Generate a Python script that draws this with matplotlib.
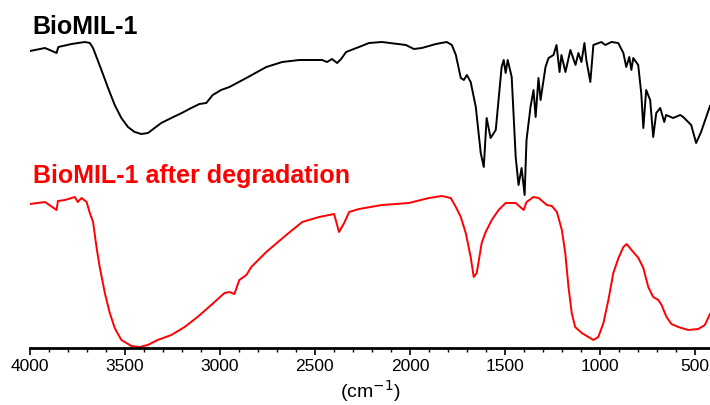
import matplotlib.pyplot as plt
from matplotlib.ticker import MultipleLocator

plt.rcParams['font.family'] = ['Liberation Sans', 'DejaVu Sans']

# BioMIL-1 spectrum (wavenumber, transmittance in arbitrary offset units)
wn_fresh = [4000, 3921, 3860, 3851, 3781, 3746, 3711, 3685, 3668, 3650, 3624, 3589,
            3554, 3519, 3484, 3449, 3414, 3379, 3344, 3309, 3256, 3201, 3151, 3108,
            3072, 3038, 2994, 2950, 2861, 2756, 2672, 2583,
            2462, 2436, 2410, 2383, 2362, 2336, 2268, 2215, 2147, 2021, 1979, 1937,
            1863, 1806, 1779, 1758, 1732, 1716, 1700, 1680, 1653, 1627, 1611, 1596,
            1575, 1548, 1517, 1506, 1496, 1485, 1464, 1443, 1428, 1412, 1396, 1386,
            1365, 1349, 1338, 1323, 1312, 1286, 1270, 1244, 1228, 1212, 1202, 1181,
            1155, 1128, 1113, 1097, 1081, 1071, 1050, 1034, 992, 971, 939, 903,
            876, 861, 845, 834, 824, 798, 782, 771, 756, 735, 719, 703,
            682, 661, 651, 614, 577, 561, 519, 493, 467, 420]
t_fresh = [297, 300, 295, 301, 304, 305, 306, 305, 300, 291, 278, 260,
           243, 230, 221, 216, 214, 215, 220, 225, 230, 235, 240, 244,
           245, 253, 258, 261, 270, 281, 286, 288,
           288, 286, 289, 285, 289, 296, 301, 305, 306, 303, 299, 300,
           304, 306, 303, 293, 270, 268, 273, 266, 241, 195, 181, 230,
           210, 218, 281, 288, 275, 288, 271, 191, 163, 180, 153, 208,
           241, 258, 231, 270, 248, 281, 290, 293, 303, 276, 293, 276,
           298, 283, 295, 286, 305, 288, 266, 303, 306, 303, 306, 305,
           295, 281, 291, 278, 290, 283, 255, 220, 258, 248, 211, 235,
           240, 226, 233, 230, 233, 231, 223, 205, 216, 242]

# BioMIL-1 after degradation
wn_degr = [4000, 3921, 3860, 3853, 3816, 3764, 3748, 3729, 3702, 3685, 3668, 3650,
           3633, 3606, 3580, 3554, 3519, 3466, 3422, 3380, 3328, 3256, 3186, 3118,
           3046, 2976, 2950, 2924, 2898, 2861, 2835, 2756, 2651, 2567, 2478, 2399,
           2373, 2346, 2320, 2268, 2147, 2005, 1900, 1832, 1785, 1758, 1732, 1706,
           1680, 1664, 1648, 1622, 1601, 1569, 1533, 1496, 1443, 1401, 1386, 1349,
           1322, 1279, 1253, 1226, 1200, 1182, 1165, 1148, 1130, 1095, 1060, 1034,
           1008, 981, 955, 929, 902, 876, 859, 833, 797, 771, 745, 719,
           692, 675, 649, 623, 587, 535, 482, 447, 420]
t_degr = [144, 146, 138, 147, 148, 151, 146, 150, 146, 135, 126, 101,
          81, 55, 35, 20, 8, 2, 1, 3, 8, 13, 21, 31,
          43, 55, 56, 54, 68, 73, 81, 96, 113, 126, 131, 134,
          116, 125, 136, 139, 143, 145, 150, 152, 150, 141, 131, 115,
          91, 71, 75, 105, 116, 128, 138, 145, 145, 138, 146, 151,
          150, 143, 142, 136, 118, 95, 61, 35, 21, 15, 11, 8,
          11, 25, 48, 75, 90, 101, 104, 98, 90, 80, 61, 51,
          48, 43, 31, 24, 21, 18, 19, 23, 34]

fig = plt.figure(figsize=(7.1, 4.05), dpi=100)
ax = fig.add_axes([30/710, 57/405, 680/710, 348/405])

ax.plot(wn_fresh, t_fresh, color='black', lw=1.4)
ax.plot(wn_degr, t_degr, color='red', lw=1.4)

ax.set_xlim(4000, 420)
ax.set_ylim(0, 348)

ax.text(3985, 321, 'BioMIL-1', color='black', fontsize=18, fontweight='bold', va='center')
ax.text(3985, 172, 'BioMIL-1 after degradation', color='red', fontsize=18,
        fontweight='bold', va='center')

for s in ['left', 'top', 'right']:
    ax.spines[s].set_visible(False)
ax.spines['bottom'].set_linewidth(2)
ax.set_yticks([])
ax.xaxis.set_major_locator(MultipleLocator(500))
ax.xaxis.set_minor_locator(MultipleLocator(100))
ax.tick_params(axis='x', which='major', length=5, width=1.2, labelsize=12.5, pad=3)
ax.tick_params(axis='x', which='minor', length=3, width=1)
ax.set_xlabel('(cm$^{-1}$)', fontsize=14, labelpad=3)

fig.savefig('out.png', dpi=100)
